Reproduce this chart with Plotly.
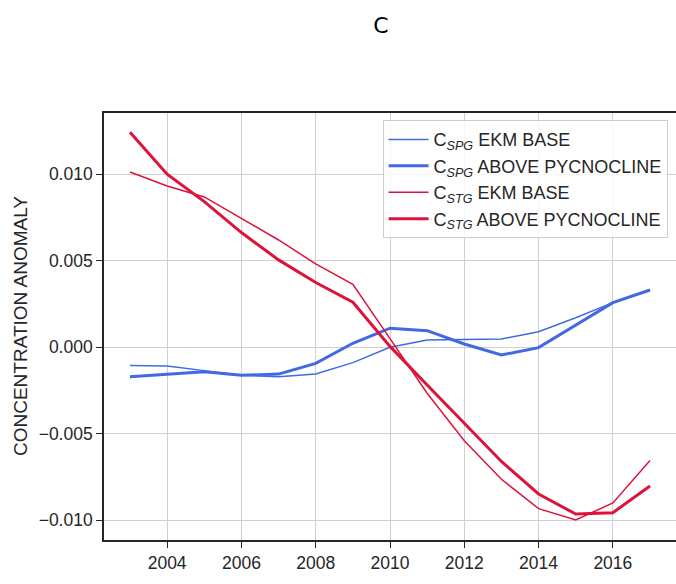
import plotly.graph_objects as go

years = list(range(2003, 2018))
spg_ekm = [-0.00106, -0.00108, -0.00135, -0.00162, -0.00170, -0.00155, -0.00089, 0.00000,
           0.00042, 0.00046, 0.00048, 0.00090, 0.00171, 0.00258, 0.00331]
spg_above = [-0.00170, -0.00155, -0.00141, -0.00162, -0.00155, -0.00093, 0.00023, 0.00110,
             0.00096, 0.00019, -0.00045, -0.00002, 0.00129, 0.00258, 0.00331]
stg_ekm = [0.01013, 0.00932, 0.00869, 0.00745, 0.00620, 0.00482, 0.00364, 0.00050,
           -0.00266, -0.00540, -0.00763, -0.00933, -0.00998, -0.00900, -0.00655]
stg_above = [0.01243, 0.01000, 0.00842, 0.00663, 0.00505, 0.00374, 0.00260, 0.00005,
             -0.00218, -0.00440, -0.00660, -0.00848, -0.00964, -0.00956, -0.00802]

series_names = [
    "C<sub><i>SPG</i></sub> EKM BASE",
    "C<sub><i>SPG</i></sub> ABOVE PYCNOCLINE",
    "C<sub><i>STG</i></sub> EKM BASE",
    "C<sub><i>STG</i></sub> ABOVE PYCNOCLINE",
]
x_ticks = [2004, 2006, 2008, 2010, 2012, 2014, 2016]
y_ticks = [-0.010, -0.005, 0.000, 0.005, 0.010]

BLUE = "#4169E1"
RED = "#DC143C"

fig = go.Figure()
for name, vals, color, width in [
    (series_names[0], spg_ekm, BLUE, 1.5),
    (series_names[1], spg_above, BLUE, 3),
    (series_names[2], stg_ekm, RED, 1.5),
    (series_names[3], stg_above, RED, 3),
]:
    fig.add_trace(go.Scatter(x=years, y=vals, mode="lines", name=name,
                             line=dict(color=color, width=width)))

axis_common = dict(
    showgrid=True, gridcolor="#d0d0d0", gridwidth=1.4,
    showline=True, linecolor="#262626", linewidth=1.6,
    ticks="outside", ticklen=6, tickwidth=1.4, tickcolor="#262626",
    tickfont=dict(size=17.5, color="#262626"), zeroline=False,
)

fig.update_layout(
    width=676, height=584,
    margin=dict(l=104, r=0, t=113, b=44),
    paper_bgcolor="white", plot_bgcolor="white",
    font=dict(family="Liberation Sans, Arial, sans-serif", color="#262626"),
    title=dict(text="C", x=381 / 676, xanchor="center",
               y=1 - 25 / 584, yref="container", yanchor="middle",
               font=dict(size=22, color="black", family="DejaVu Sans")),
    xaxis=dict(range=[2002.3, 2017.7], tickvals=x_ticks, mirror=True, **axis_common),
    yaxis=dict(range=[-0.01114, 0.01354], tickvals=y_ticks, tickformat=".3f",
               **axis_common),
    legend=dict(x=0.487, y=0.983, xanchor="left", yanchor="top",
                bgcolor="rgba(255,255,255,0.8)", bordercolor="#cccccc", borderwidth=1,
                font=dict(size=18, color="#262626"), tracegroupgap=0,
                itemwidth=40),
    showlegend=True,
    annotations=[dict(text="CONCENTRATION ANOMALY", textangle=-90,
                      xref="paper", yref="paper", x=(20 - 104) / 572, y=(540 - 326) / 427,
                      xanchor="center", yanchor="middle", showarrow=False,
                      font=dict(size=19, color="#262626"))],
)

fig.write_html("out.html")
